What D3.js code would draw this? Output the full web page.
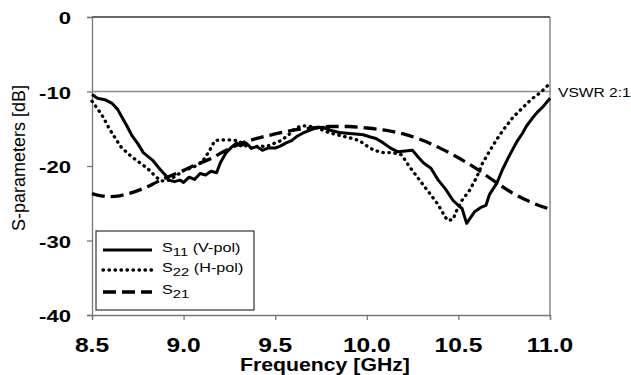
<!DOCTYPE html>
<html>
<head>
<meta charset="utf-8">
<script src="https://cdn.jsdelivr.net/npm/d3@7"></script>
<style>
  body { margin: 0; background: #fff; }
  text { font-family: Arial, "Liberation Sans", sans-serif; fill: #000; }
</style>
</head>
<body>
<div id="container"></div>
<script>
/* DATA */
const freqS11 = [8.50, 8.53, 8.57, 8.61, 8.64, 8.66, 8.69, 8.72, 8.75, 8.78, 8.81, 8.83, 8.87, 8.90, 8.92, 8.95, 8.98, 9.00, 9.03, 9.06, 9.09, 9.12, 9.15, 9.18, 9.20, 9.23, 9.26, 9.29, 9.31, 9.34, 9.37, 9.40, 9.43, 9.46, 9.50, 9.53, 9.56, 9.59, 9.62, 9.65, 9.68, 9.72, 9.76, 9.80, 9.85, 9.89, 9.94, 9.98, 10.02, 10.05, 10.09, 10.13, 10.17, 10.21, 10.25, 10.28, 10.31, 10.35, 10.39, 10.43, 10.47, 10.50, 10.52, 10.545, 10.57, 10.59, 10.62, 10.65, 10.67, 10.71, 10.74, 10.77, 10.80, 10.82, 10.85, 10.87, 10.90, 10.93, 10.96, 11.00];
const s11 = [-10.4, -10.9, -11.1, -11.6, -12.4, -13.3, -14.6, -16.0, -17.0, -18.2, -18.8, -19.2, -20.4, -21.2, -21.9, -22.1, -21.9, -22.2, -21.5, -21.8, -21.0, -21.2, -20.7, -20.9, -19.6, -18.3, -17.5, -16.9, -17.3, -16.9, -17.6, -17.4, -17.9, -17.6, -17.6, -17.3, -16.9, -16.6, -16.0, -15.6, -15.3, -14.9, -14.8, -15.2, -15.5, -15.6, -15.7, -15.8, -16.1, -16.3, -16.9, -17.6, -18.1, -18.0, -17.9, -18.8, -19.6, -20.3, -21.9, -23.1, -24.6, -25.3, -25.7, -27.7, -26.8, -26.1, -25.6, -25.3, -23.8, -22.3, -20.5, -19.0, -17.6, -16.7, -15.6, -14.7, -13.7, -12.8, -12.1, -10.9];

const freqS22 = [8.50, 8.53, 8.56, 8.59, 8.62, 8.66, 8.70, 8.74, 8.78, 8.82, 8.85, 8.88, 8.92, 8.96, 9.00, 9.05, 9.10, 9.14, 9.17, 9.20, 9.25, 9.30, 9.33, 9.37, 9.41, 9.45, 9.49, 9.53, 9.57, 9.61, 9.65, 9.70, 9.74, 9.78, 9.82, 9.87, 9.92, 9.96, 10.00, 10.04, 10.09, 10.14, 10.19, 10.23, 10.27, 10.31, 10.35, 10.39, 10.42, 10.44, 10.47, 10.49, 10.52, 10.56, 10.60, 10.63, 10.67, 10.71, 10.75, 10.80, 10.85, 10.90, 10.95, 11.00];
const s22 = [-11.3, -12.3, -13.4, -14.8, -16.0, -17.5, -18.4, -19.2, -19.9, -20.7, -21.5, -22.0, -21.9, -21.3, -20.6, -20.2, -19.5, -18.0, -16.6, -16.5, -16.5, -16.6, -17.2, -17.6, -17.3, -17.4, -17.0, -16.6, -15.9, -14.9, -14.6, -14.7, -15.0, -15.4, -15.7, -16.0, -16.3, -16.6, -17.3, -17.9, -18.2, -18.2, -18.5, -20.0, -21.3, -22.6, -23.9, -25.2, -26.5, -27.3, -27.2, -26.0, -24.6, -23.3, -21.5, -19.7, -18.0, -16.4, -15.0, -13.4, -12.2, -11.0, -10.1, -8.9];

const freqS21 = [8.50, 8.55, 8.60, 8.65, 8.70, 8.75, 8.80, 8.85, 8.90, 8.95, 9.00, 9.05, 9.10, 9.15, 9.20, 9.25, 9.30, 9.40, 9.50, 9.60, 9.70, 9.80, 9.90, 10.00, 10.10, 10.20, 10.30, 10.40, 10.50, 10.60, 10.70, 10.80, 10.90, 11.00];
const s21 = [-23.7, -24.0, -24.1, -24.0, -23.7, -23.3, -22.8, -22.2, -21.6, -21.1, -20.6, -20.0, -19.5, -19.0, -18.3, -17.7, -17.1, -16.3, -15.7, -15.2, -14.9, -14.7, -14.7, -14.9, -15.2, -15.7, -16.5, -17.6, -18.9, -20.4, -22.1, -23.7, -24.9, -25.8];

const xTicks = [8.5, 9.0, 9.5, 10.0, 10.5, 11.0];
const yTicks = [0, -10, -20, -30, -40];
const vswrLevel = -10;

const legendItems = [
  { name: "S", sub: "11", note: " (V-pol)", dash: null },
  { name: "S", sub: "22", note: " (H-pol)", dash: "0.5,5.5" },
  { name: "S", sub: "21", note: "", dash: "13,6" }
];

/* CONSTANTS AND GLOBALS */
const width = 631;
const height = 375;
const margin = { top: 17, bottom: 60, left: 92, right: 81 };

const svg = d3.select("#container")
  .append("svg")
  .attr("width", width)
  .attr("height", height);

/* SCALES */
const xScale = d3.scaleLinear()
  .domain([8.5, 11])
  .range([margin.left, width - margin.right]);

const yScale = d3.scaleLinear()
  .domain([-40, 0])
  .range([height - margin.bottom, margin.top]);

// the source image is stretched sideways, so text gets a horizontal scale
function wideText(x, y, str, size, sx, anchor, weight) {
  return svg.append("g")
    .attr("transform", `translate(${x},${y}) scale(${sx},1)`)
    .append("text")
    .attr("text-anchor", anchor)
    .attr("font-size", size)
    .attr("font-weight", weight)
    .text(str);
}

/* GRID + FRAME */
svg.append("line")
  .attr("x1", xScale(8.5)).attr("x2", xScale(11))
  .attr("y1", yScale(vswrLevel)).attr("y2", yScale(vswrLevel))
  .attr("stroke", "#8c8c8c").attr("stroke-width", 1.3);

svg.append("line")
  .attr("x1", xScale(8.5)).attr("x2", xScale(11))
  .attr("y1", yScale(0)).attr("y2", yScale(0))
  .attr("stroke", "#333").attr("stroke-width", 1.3);

svg.append("line")
  .attr("x1", xScale(11)).attr("x2", xScale(11))
  .attr("y1", yScale(0)).attr("y2", yScale(-40))
  .attr("stroke", "#777").attr("stroke-width", 1.3);

/* AXES */
const xAxis = svg.append("g")
  .attr("transform", `translate(0,${yScale(-40)})`)
  .call(d3.axisBottom(xScale).tickValues(xTicks).tickSize(5).tickFormat(""));
const yAxis = svg.append("g")
  .attr("transform", `translate(${xScale(8.5)},0)`)
  .call(d3.axisLeft(yScale).tickValues(yTicks).tickSize(5).tickFormat(""));
[xAxis, yAxis].forEach(a => {
  a.select(".domain").attr("stroke", "#777").attr("stroke-width", 1.3);
  a.selectAll(".tick line").attr("stroke", "#777").attr("stroke-width", 1.3);
});

xTicks.forEach(t => wideText(xScale(t), 352, d3.format(".1f")(t), 21, 1.17, "middle", "bold"));
yTicks.forEach(t => wideText(71, yScale(t) + 7, t, 17, 1.3, "end", "bold"));

wideText(325, 371, "Frequency [GHz]", 18, 1.18, "middle", "bold");

svg.append("text")
  .attr("transform", `translate(25,158) rotate(-90)`)
  .attr("text-anchor", "middle")
  .attr("font-size", 18)
  .text("S-parameters [dB]");

wideText(558, 96.5, "VSWR 2:1", 13, 1.2, "start", "normal");

/* LINES */
const series = [
  { f: freqS11, v: s11, dash: null, curve: d3.curveLinear, w: 3 },
  { f: freqS22, v: s22, dash: "0.5,5.5", curve: d3.curveLinear, w: 3.3 },
  { f: freqS21, v: s21, dash: "13,6", curve: d3.curveMonotoneX, w: 3.3 }
];

series.forEach(s => {
  const pts = s.f.map((f, i) => [f, s.v[i]]);
  const line = d3.line()
    .x(d => xScale(d[0]))
    .y(d => yScale(d[1]))
    .curve(s.curve);
  svg.append("path")
    .datum(pts)
    .attr("d", line)
    .attr("fill", "none")
    .attr("stroke", "#000")
    .attr("stroke-width", s.w)
    .attr("stroke-linecap", s.dash === "0.5,5.5" ? "round" : "butt")
    .attr("stroke-linejoin", "round")
    .attr("stroke-dasharray", s.dash);
});

/* LEGEND */
const legend = svg.append("g");
legend.append("rect")
  .attr("x", 96).attr("y", 231)
  .attr("width", 158).attr("height", 79)
  .attr("fill", "#fff")
  .attr("stroke", "#333").attr("stroke-width", 1.2);

const rowY = [250, 270, 292];
legendItems.forEach((d, i) => {
  legend.append("line")
    .attr("x1", 103).attr("x2", 152)
    .attr("y1", rowY[i]).attr("y2", rowY[i])
    .attr("stroke", "#000")
    .attr("stroke-width", i === 0 ? 3 : 3.3)
    .attr("stroke-linecap", i === 1 ? "round" : "butt")
    .attr("stroke-dasharray", d.dash);

  const t = svg.append("g")
    .attr("transform", `translate(162,${rowY[i] + 2}) scale(1.35,1)`)
    .append("text")
    .attr("font-size", 12);
  t.append("tspan").text(d.name);
  t.append("tspan").attr("font-size", 11).attr("dy", 4).text(d.sub);
  t.append("tspan").attr("dy", -4).text(d.note);
});
</script>
</body>
</html>
